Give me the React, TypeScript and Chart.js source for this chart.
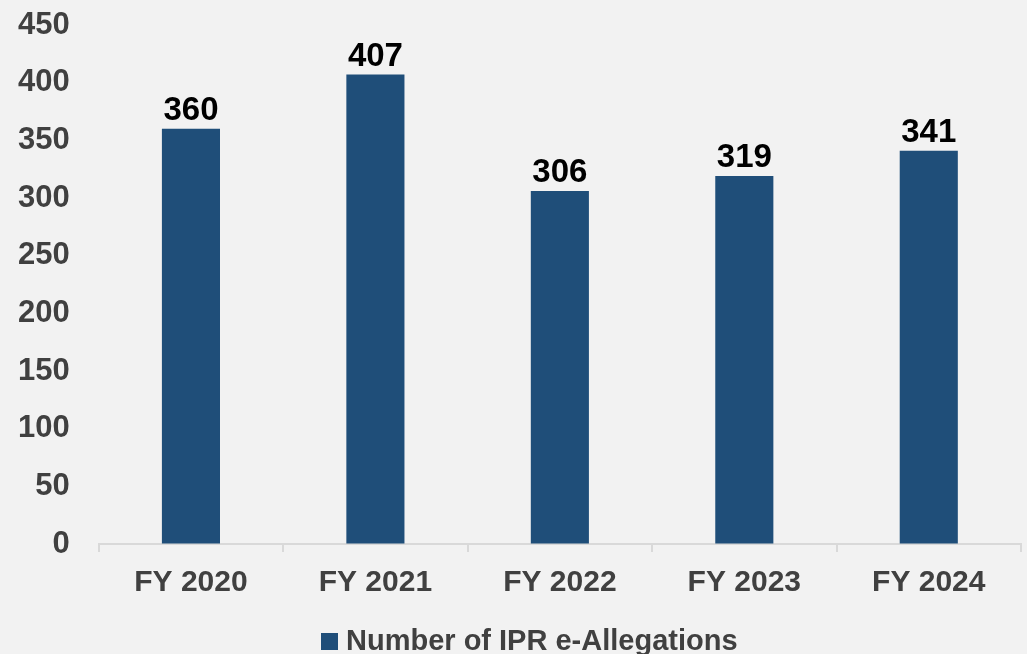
import React, { useEffect, useRef } from "react";
import { Chart, registerables } from "chart.js";

Chart.register(...registerables);

const categories = ["FY 2020", "FY 2021", "FY 2022", "FY 2023", "FY 2024"];
const allegations = [360, 407, 306, 319, 341];
const seriesName = "Number of IPR e-Allegations";

const FONT = "'Liberation Sans', Arial, sans-serif";
const BAR_COLOR = "#1f4e79";

const valueLabels = {
  id: "valueLabels",
  afterDatasetsDraw(chart: any) {
    const ctx = chart.ctx;
    const meta = chart.getDatasetMeta(0);
    ctx.save();
    ctx.font = `bold 33px ${FONT}`;
    ctx.fillStyle = "#000000";
    ctx.textAlign = "center";
    ctx.textBaseline = "alphabetic";
    meta.data.forEach((bar: any, i: number) => {
      ctx.fillText(String(chart.data.datasets[0].data[i]), bar.x, bar.y - 9);
    });
    ctx.restore();
  },
};

const bottomLegend = {
  id: "bottomLegend",
  afterDraw(chart: any) {
    const ctx = chart.ctx;
    const ds = chart.data.datasets[0];
    ctx.save();
    ctx.fillStyle = ds.backgroundColor;
    ctx.fillRect(321, 633, 17, 17);
    ctx.font = `bold 29px ${FONT}`;
    ctx.fillStyle = "#404040";
    ctx.textAlign = "left";
    ctx.textBaseline = "alphabetic";
    ctx.fillText(ds.label, 346, 650);
    ctx.restore();
  },
};

const bgPlugin = {
  id: "bg",
  beforeDraw(chart: any) {
    const ctx = chart.ctx;
    ctx.save();
    ctx.fillStyle = "#f2f2f2";
    ctx.fillRect(0, 0, chart.width, chart.height);
    ctx.restore();
  },
};

export default function App() {
  const ref = useRef<HTMLCanvasElement>(null);
  useEffect(() => {
    document.body.style.margin = "0";
    document.body.style.background = "#f2f2f2";
    const chart = new Chart(ref.current!, {
      type: "bar",
      data: {
        labels: categories,
        datasets: [
          {
            label: seriesName,
            data: allegations,
            backgroundColor: BAR_COLOR,
            categoryPercentage: 1,
            barPercentage: 0.315,
          },
        ],
      },
      options: {
        responsive: false,
        animation: false,
        layout: { padding: { left: 18, right: 6, top: 25, bottom: 40 } },
        plugins: {
          tooltip: { enabled: false },
          legend: { display: false },
        },
        scales: {
          x: {
            offset: true,
            grid: {
              display: true,
              offset: true,
              drawOnChartArea: false,
              drawTicks: true,
              tickLength: 8,
              color: "#d9d9d9",
              lineWidth: 2,
            },
            border: { display: true, color: "#d9d9d9", width: 2 },
            ticks: {
              color: "#404040",
              padding: 13,
              font: { family: FONT, size: 30, weight: "bold" },
            },
          },
          y: {
            min: 0,
            max: 450,
            grid: {
              display: true,
              drawOnChartArea: false,
              drawTicks: true,
              tickLength: 29,
              color: "rgba(0,0,0,0)",
            },
            border: { display: false },
            ticks: {
              stepSize: 50,
              color: "#404040",
              padding: 0,
              font: { family: FONT, size: 31, weight: "bold" },
            },
          },
        },
      },
      plugins: [bgPlugin, valueLabels, bottomLegend],
    });
    return () => chart.destroy();
  }, []);
  return (
    <div style={{ width: 1027, height: 654, background: "#f2f2f2" }}>
      <canvas ref={ref} width={1027} height={654} />
    </div>
  );
}
